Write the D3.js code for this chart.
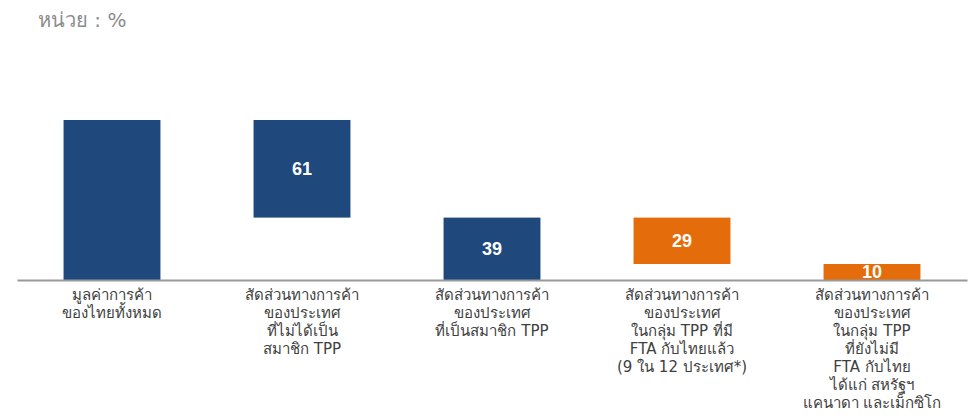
<!DOCTYPE html>
<html>
<head>
<meta charset="utf-8">
<script src="https://cdn.jsdelivr.net/npm/d3@7"></script>
<style>
  body { margin: 0; background: #fff; }
  svg { display: block; }
</style>
</head>
<body>
<svg id="chart" width="971" height="416"></svg>
<script>
// categories (multi-line Thai labels)
const categories = [
  ["มูลค่าการค้า", "ของไทยทั้งหมด"],
  ["สัดส่วนทางการค้า", "ของประเทศ", "ที่ไม่ได้เป็น", "สมาชิก TPP"],
  ["สัดส่วนทางการค้า", "ของประเทศ", "ที่เป็นสมาชิก TPP"],
  ["สัดส่วนทางการค้า", "ของประเทศ", "ในกลุ่ม TPP ที่มี", "FTA กับไทยแล้ว", "(9 ใน 12 ประเทศ*)"],
  ["สัดส่วนทางการค้า", "ของประเทศ", "ในกลุ่ม TPP", "ที่ยังไม่มี", "FTA กับไทย", "ได้แก่ สหรัฐฯ", "แคนาดา และเม็กซิโก"]
];
// waterfall: bottom and top of each bar
const barBase = [0, 39, 0, 10, 0];
const barTop = [100, 100, 39, 39, 10];
const valueLabels = ["", "61", "39", "29", "10"];
const barGroup = ["navy", "navy", "navy", "orange", "orange"];

const svg = d3.select("#chart");

const colors = { navy: "#1f497d", orange: "#e46c0a" };

const x = d3.scaleBand()
  .domain(d3.range(categories.length))
  .range([17, 967])
  .paddingInner(0.49)
  .paddingOuter(0.245);

const y = d3.scaleLinear().domain([0, 100]).range([280, 120]);

// unit label
svg.append("text")
  .attr("x", 38)
  .attr("y", 27)
  .attr("fill", "#8c8c8c")
  .style("font-family", "Tahoma, 'DejaVu Sans', sans-serif")
  .style("font-size", "20px")
  .text("หน่วย : %");

// bars
svg.selectAll("rect.bar")
  .data(d3.range(categories.length))
  .join("rect")
  .attr("class", "bar")
  .attr("x", i => x(i))
  .attr("y", i => y(barTop[i]))
  .attr("width", x.bandwidth())
  .attr("height", i => y(barBase[i]) - y(barTop[i]))
  .attr("fill", i => colors[barGroup[i]]);

// value labels inside bars
svg.selectAll("text.val")
  .data(d3.range(categories.length))
  .join("text")
  .attr("class", "val")
  .attr("x", i => x(i) + x.bandwidth() / 2)
  .attr("y", i => (y(barBase[i]) + y(barTop[i])) / 2)
  .attr("dy", "0.36em")
  .attr("text-anchor", "middle")
  .attr("fill", "#fff")
  .style("font-family", "Arial, 'Liberation Sans', sans-serif")
  .style("font-weight", "bold")
  .style("font-size", "18px")
  .text(i => valueLabels[i]);

// baseline axis
const axis = svg.append("g")
  .attr("transform", `translate(0,${y(0)})`)
  .call(d3.axisBottom(x).tickSize(0).tickFormat(""));
axis.select(".domain").attr("stroke", "#999").attr("stroke-width", 2);

// category labels
const lab = svg.selectAll("text.cat")
  .data(d3.range(categories.length))
  .join("text")
  .attr("class", "cat")
  .attr("text-anchor", "middle")
  .attr("fill", "#404040")
  .style("font-family", "Tahoma, 'DejaVu Sans', sans-serif")
  .style("font-size", "15px");

lab.selectAll("tspan")
  .data(i => categories[i].map(t => ({ i, t })))
  .join("tspan")
  .attr("x", d => x(d.i) + x.bandwidth() / 2)
  .attr("y", (d, k) => 300 + k * 18)
  .text(d => d.t);
</script>
</body>
</html>
